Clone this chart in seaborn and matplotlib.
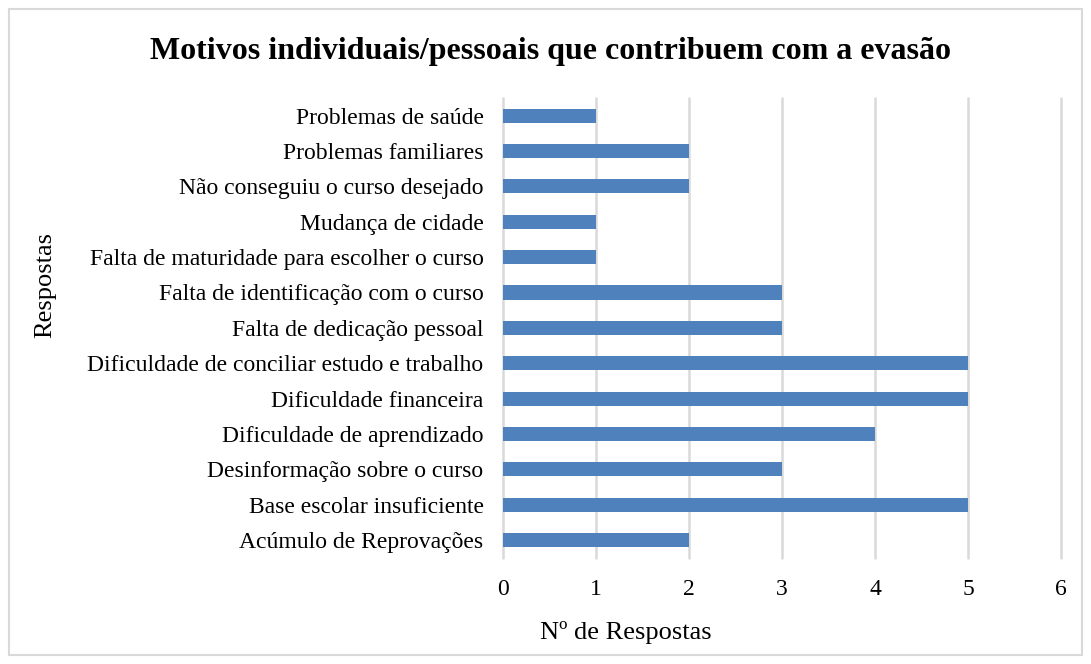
import pandas as pd
import matplotlib.pyplot as plt
import seaborn as sns
from matplotlib.patches import Rectangle

motivos = [
    "Problemas de saúde",
    "Problemas familiares",
    "Não conseguiu o curso desejado",
    "Mudança de cidade",
    "Falta de maturidade para escolher o curso",
    "Falta de identificação com o curso",
    "Falta de dedicação pessoal",
    "Dificuldade de conciliar estudo e trabalho",
    "Dificuldade financeira",
    "Dificuldade de aprendizado",
    "Desinformação sobre o curso",
    "Base escolar insuficiente",
    "Acúmulo de Reprovações",
]
respostas = [1, 2, 2, 1, 1, 3, 3, 5, 5, 4, 3, 5, 2]

df = pd.DataFrame({"motivo": motivos, "respostas": respostas})

sns.set_style("white")
plt.rcParams["font.family"] = ["Liberation Serif", "DejaVu Serif"]
plt.rcParams["text.color"] = "black"

fig = plt.figure(figsize=(10.91, 6.64), dpi=100)
ax = fig.add_axes([503 / 1091, 1 - 557.7 / 664, 558 / 1091, 459.7 / 664])

sns.barplot(
    data=df,
    x="respostas",
    y="motivo",
    order=motivos,
    color="#4F81BD",
    saturation=1,
    width=0.4,
    linewidth=0,
    ax=ax,
)

ax.set_xlim(0, 6)
ax.set_ylim(12.5, -0.5)
ax.set_xticks(range(7))
ax.grid(axis="x", color="#D9D9D9", linewidth=1.8)
for gl in ax.get_xgridlines():
    gl.set_clip_on(False)
ax.set_axisbelow(True)
for s in ax.spines.values():
    s.set_visible(False)
ax.tick_params(axis="y", length=0, pad=14, labelsize=17, labelcolor="black")
ax.tick_params(axis="x", length=0, pad=15, labelsize=17, labelcolor="black")
ax.set_xlabel("")
ax.set_ylabel("")

fig.text(626 / 1091, 1 - 632 / 664, "Nº de Respostas", ha="center", va="center", fontsize=19)
fig.text(45 / 1091, 1 - 285 / 664, "Respostas", ha="center", va="center", rotation=90, fontsize=19)
fig.text(551 / 1091, 1 - 52 / 664, "Motivos individuais/pessoais que contribuem com a evasão",
         ha="center", va="center", fontsize=23, fontweight="bold")

fig.patches.append(Rectangle((9 / 1091, 9 / 664), 1073 / 1091, 646 / 664,
                             transform=fig.transFigure, fill=False,
                             edgecolor="#D9D9D9", linewidth=1.5))

fig.savefig("out.png", dpi=100)
